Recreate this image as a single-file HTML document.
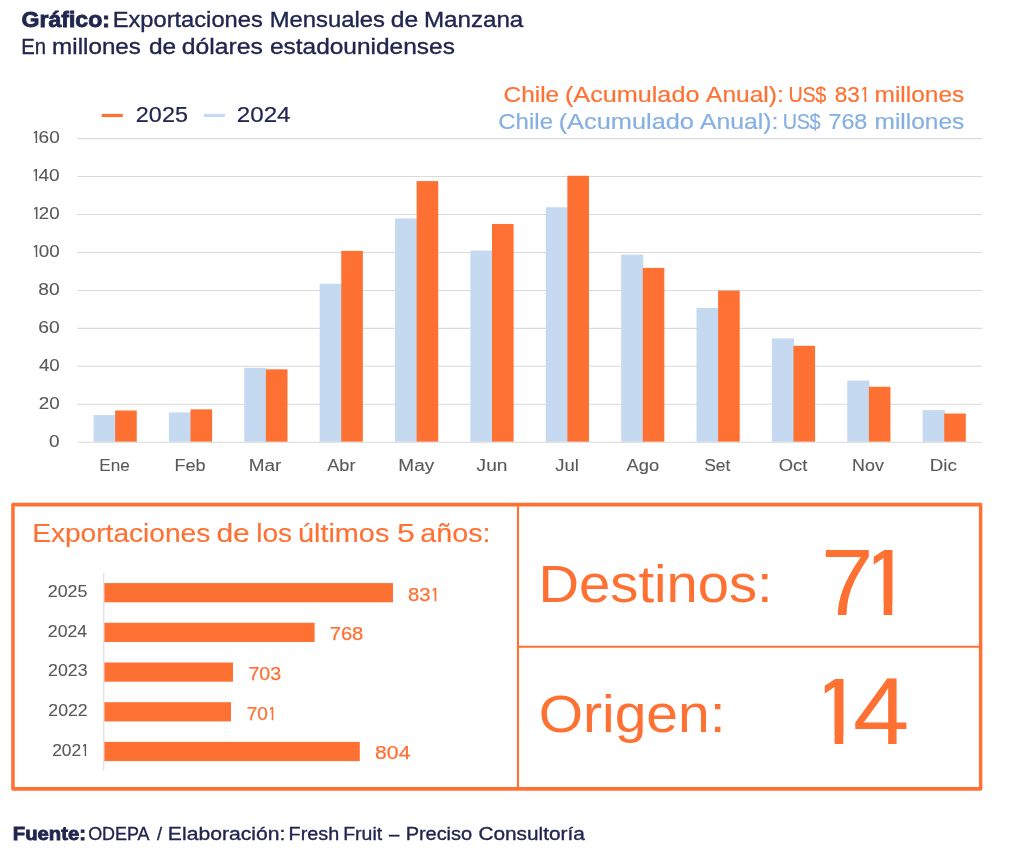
<!DOCTYPE html>
<html lang="es">
<head>
<meta charset="utf-8">
<title>Exportaciones Mensuales de Manzana</title>
<style>
html,body{margin:0;padding:0;background:#fff;}
body{width:1024px;height:859px;position:relative;overflow:hidden;font-family:"Liberation Sans",sans-serif;}
.t{position:absolute;white-space:nowrap;line-height:1;margin:0;padding:0;transform-origin:0 50%;-webkit-text-stroke:0.35px;}
.line{position:absolute;left:0;top:0;margin:0;}
span.t{display:block;}
.n1{display:inline-block;margin:0 -0.15em 0 -0.05em;clip-path:polygon(0.155em 0,0.344em 0,0.344em 0.74em,0.338em 0.74em,0.338em 1em,0.252em 1em,0.252em 0.74em,0.246em 0.74em,0.246em 0.5em,0.155em 0.5em);}
.big{position:absolute;top:0;display:block;transform-origin:0 50%;}
</style>
</head>
<body>

<svg id="chart" width="1024" height="859" viewBox="0 0 1024 859" style="position:absolute;left:0;top:0">
<g id="grid" stroke="#D9D9D9" stroke-width="1.05" fill="none">
<line x1="77.46" y1="404.25" x2="982.00" y2="404.25"/>
<line x1="77.46" y1="366.30" x2="982.00" y2="366.30"/>
<line x1="77.46" y1="328.35" x2="982.00" y2="328.35"/>
<line x1="77.46" y1="290.40" x2="982.00" y2="290.40"/>
<line x1="77.46" y1="252.45" x2="982.00" y2="252.45"/>
<line x1="77.46" y1="214.50" x2="982.00" y2="214.50"/>
<line x1="77.46" y1="176.55" x2="982.00" y2="176.55"/>
<line x1="77.46" y1="138.60" x2="982.00" y2="138.60"/>
</g>
<g id="bars2024" fill="#C5D9F1">
<rect x="93.54" y="415.05" width="22.20" height="26.75"/>
<rect x="168.91" y="412.39" width="22.20" height="29.41"/>
<rect x="244.28" y="367.80" width="22.20" height="74.00"/>
<rect x="319.65" y="283.74" width="22.20" height="158.06"/>
<rect x="395.02" y="218.46" width="22.20" height="223.34"/>
<rect x="470.39" y="250.53" width="22.20" height="191.27"/>
<rect x="545.76" y="207.27" width="22.20" height="234.53"/>
<rect x="621.14" y="254.61" width="22.20" height="187.19"/>
<rect x="696.50" y="307.84" width="22.20" height="133.96"/>
<rect x="771.88" y="338.39" width="22.20" height="103.41"/>
<rect x="847.25" y="380.51" width="22.20" height="61.29"/>
<rect x="922.62" y="410.11" width="22.20" height="31.69"/>
</g>
<g id="bars2025" fill="#FF7033">
<rect x="115.14" y="410.49" width="21.60" height="31.31"/>
<rect x="190.51" y="409.35" width="21.60" height="32.45"/>
<rect x="265.88" y="369.32" width="21.60" height="72.48"/>
<rect x="341.25" y="250.91" width="21.60" height="190.89"/>
<rect x="416.62" y="181.08" width="21.60" height="260.72"/>
<rect x="492.00" y="223.97" width="21.60" height="217.83"/>
<rect x="567.37" y="175.77" width="21.60" height="266.03"/>
<rect x="642.74" y="267.89" width="21.60" height="173.91"/>
<rect x="718.11" y="290.57" width="21.60" height="151.23"/>
<rect x="793.48" y="345.79" width="21.60" height="96.01"/>
<rect x="868.85" y="386.77" width="21.60" height="55.03"/>
<rect x="944.22" y="413.53" width="21.60" height="28.27"/>
</g>
<line x1="77.46" y1="442.20" x2="982.00" y2="442.20" stroke="#D9D9D9" stroke-width="1.05"/>
<rect x="101.7" y="113.9" width="21.1" height="3.2" fill="#FF7033"/>
<rect x="203.8" y="113.9" width="21.0" height="3.2" fill="#C5D9F1"/>
<g id="panel" stroke="#FF7033" fill="none">
<path fill="#FF7033" stroke="none" fill-rule="evenodd" d="M12.80 502.75H980.75Q982.35 502.75 982.35 504.35V789.10Q982.35 790.70 980.75 790.70H12.80Q11.20 790.70 11.20 789.10V504.35Q11.20 502.75 12.80 502.75ZM14.70 506.45V787.00H978.90V506.45Z"/>
<line x1="518" y1="505" x2="518" y2="788.5" stroke-width="2.1"/>
<line x1="518" y1="646.8" x2="980" y2="646.8" stroke-width="2.1"/>
</g>
<line x1="103.8" y1="572.8" x2="103.8" y2="770.6" stroke="#D9D9D9" stroke-width="1.05"/>
<g id="yearly" fill="#FF7033">
<rect x="104.4" y="583.10" width="288.60" height="19.2"/>
<rect x="104.4" y="622.80" width="210.20" height="19.2"/>
<rect x="104.4" y="662.50" width="128.60" height="19.2"/>
<rect x="104.4" y="702.20" width="126.60" height="19.2"/>
<rect x="104.4" y="741.90" width="255.40" height="19.2"/>
</g>
</svg>
<header id="titulo">
<div class="t" id="t1b" style="left:21px;top:9px;font-size:21.80px;color:#20264F;font-weight:700;transform:translate(0.47px,0.15px) scaleX(1.0588);-webkit-text-stroke:0.8px;">Gráfico:</div>
<div class="line" id="t1"><span class="t" id="t1_0" style="left:112px;top:9px;font-size:21.80px;color:#20264F;transform:translate(0.70px,0.15px) scaleX(1.0861);">Exportaciones</span>
 <span class="t" id="t1_1" style="left:269px;top:9px;font-size:21.80px;color:#20264F;transform:translate(0.72px,0.15px) scaleX(1.0918);">Mensuales</span>
 <span class="t" id="t1_2" style="left:390px;top:9px;font-size:21.80px;color:#20264F;letter-spacing:0.053px;transform:translate(0.86px,0.15px) scaleX(1.1293);">de</span>
 <span class="t" id="t1_3" style="left:423px;top:9px;font-size:21.80px;color:#20264F;transform:translate(0.88px,0.15px) scaleX(1.1084);">Manzana</span></div>
<div class="line" id="t2"><span class="t" id="t2_0" style="left:21px;top:35px;font-size:21.80px;color:#20264F;transform:translate(0.26px,0.95px) scaleX(0.9309);">En</span>
 <span class="t" id="t2_1" style="left:52px;top:35px;font-size:21.80px;color:#20264F;letter-spacing:0.010px;transform:translate(0.08px,0.95px) scaleX(1.1102);">millones</span>
 <span class="t" id="t2_2" style="left:149px;top:35px;font-size:21.80px;color:#20264F;transform:translate(0.02px,0.95px) scaleX(1.1213);">de</span>
 <span class="t" id="t2_3" style="left:181px;top:35px;font-size:21.80px;color:#20264F;transform:translate(0.73px,0.95px) scaleX(1.1335);">dólares</span>
 <span class="t" id="t2_4" style="left:269px;top:35px;font-size:21.80px;color:#20264F;letter-spacing:0.012px;transform:translate(0.90px,0.95px) scaleX(1.1210);">estadounidenses</span></div>
</header>
<section id="mensual">
<div class="t" id="lg25" style="left:135px;top:103px;font-size:22.40px;color:#20264F;letter-spacing:0.105px;transform:translate(0.68px,0.84px) scaleX(1.0438);-webkit-text-stroke:0.2px;">2025</div>
<div class="t" id="lg24" style="left:236px;top:103px;font-size:22.40px;color:#20264F;transform:translate(0.79px,0.84px) scaleX(1.0790);-webkit-text-stroke:0.2px;">2024</div>
<div class="line" id="h1"><span class="t" id="h1_0" style="left:503px;top:84px;font-size:22.00px;color:#FF7033;transform:translate(0.59px,0.48px) scaleX(1.1085);-webkit-text-stroke:0.2px;">Chile</span>
 <span class="t" id="h1_1" style="left:564px;top:84px;font-size:22.00px;color:#FF7033;transform:translate(0.94px,0.48px) scaleX(1.1455);-webkit-text-stroke:0.2px;">(Acumulado</span>
 <span class="t" id="h1_2" style="left:706px;top:84px;font-size:22.00px;color:#FF7033;transform:translate(0.04px,0.48px) scaleX(1.1139);-webkit-text-stroke:0.2px;">Anual):</span>
 <span class="t" id="h1_3" style="left:788px;top:84px;font-size:22.00px;color:#FF7033;letter-spacing:-0.477px;transform:translate(0.52px,0.48px) scaleX(0.9000);-webkit-text-stroke:0.2px;">US$</span>
 <span class="t" id="h1_4" style="left:834px;top:84px;font-size:22.00px;color:#FF7033;transform:translate(0.81px,0.48px) scaleX(1.0238);-webkit-text-stroke:0.2px;">83<span class="n1">1</span></span>
 <span class="t" id="h1_5" style="left:874px;top:84px;font-size:22.00px;color:#FF7033;transform:translate(0.54px,0.48px) scaleX(1.1113);-webkit-text-stroke:0.2px;">millones</span></div>
<div class="line" id="h2"><span class="t" id="h2_0" style="left:498px;top:110px;font-size:22.00px;color:#86AFE2;letter-spacing:0.065px;transform:translate(0.14px,0.98px) scaleX(1.0880);-webkit-text-stroke:0.2px;">Chile</span>
 <span class="t" id="h2_1" style="left:558px;top:110px;font-size:22.00px;color:#86AFE2;transform:translate(0.66px,0.98px) scaleX(1.1527);-webkit-text-stroke:0.2px;">(Acumulado</span>
 <span class="t" id="h2_2" style="left:699px;top:110px;font-size:22.00px;color:#86AFE2;transform:translate(0.92px,0.98px) scaleX(1.1249);-webkit-text-stroke:0.2px;">Anual):</span>
 <span class="t" id="h2_3" style="left:782px;top:110px;font-size:22.00px;color:#86AFE2;letter-spacing:-0.411px;transform:translate(0.75px,0.98px) scaleX(0.9000);-webkit-text-stroke:0.2px;">US$</span>
 <span class="t" id="h2_4" style="left:828px;top:110px;font-size:22.00px;color:#86AFE2;transform:translate(0.48px,0.98px) scaleX(1.0570);-webkit-text-stroke:0.2px;">768</span>
 <span class="t" id="h2_5" style="left:874px;top:110px;font-size:22.00px;color:#86AFE2;transform:translate(0.50px,0.98px) scaleX(1.1126);-webkit-text-stroke:0.2px;">millones</span></div>
<div class="t" id="y0" style="left:49px;top:433px;font-size:16.00px;color:#595959;transform:translate(0.08px,0.76px) scaleX(1.1848);-webkit-text-stroke:0.1px;">0</div>
<div class="t" id="y20" style="left:38px;top:395px;font-size:16.00px;color:#595959;transform:translate(0.73px,0.81px) scaleX(1.1728);-webkit-text-stroke:0.1px;">20</div>
<div class="t" id="y40" style="left:38px;top:357px;font-size:16.00px;color:#595959;transform:translate(0.88px,0.86px) scaleX(1.1666);-webkit-text-stroke:0.1px;">40</div>
<div class="t" id="y60" style="left:38px;top:319px;font-size:16.00px;color:#595959;transform:translate(0.18px,0.91px) scaleX(1.2043);-webkit-text-stroke:0.1px;">60</div>
<div class="t" id="y80" style="left:38px;top:281px;font-size:16.00px;color:#595959;transform:translate(0.36px,0.96px) scaleX(1.2016);-webkit-text-stroke:0.1px;">80</div>
<div class="t" id="y100" style="left:31px;top:244px;font-size:16.00px;color:#595959;transform:translate(0.99px,0.01px) scaleX(1.1750);-webkit-text-stroke:0.1px;"><span class="n1">1</span>00</div>
<div class="t" id="y120" style="left:32px;top:206px;font-size:16.00px;color:#595959;transform:translate(0.16px,0.06px) scaleX(1.1669);-webkit-text-stroke:0.1px;"><span class="n1">1</span>20</div>
<div class="t" id="y140" style="left:31px;top:168px;font-size:16.00px;color:#595959;transform:translate(0.65px,0.11px) scaleX(1.1906);-webkit-text-stroke:0.1px;"><span class="n1">1</span>40</div>
<div class="t" id="y160" style="left:31px;top:130px;font-size:16.00px;color:#595959;transform:translate(0.82px,0.16px) scaleX(1.1864);-webkit-text-stroke:0.1px;"><span class="n1">1</span>60</div>
<div class="t" id="m0" style="left:99px;top:458px;font-size:16.00px;color:#595959;transform:translate(0.30px,0.46px) scaleX(1.0678);-webkit-text-stroke:0.1px;">Ene</div>
<div class="t" id="m1" style="left:174px;top:458px;font-size:16.00px;color:#595959;transform:translate(0.52px,0.46px) scaleX(1.1266);-webkit-text-stroke:0.1px;">Feb</div>
<div class="t" id="m2" style="left:248px;top:458px;font-size:16.00px;color:#595959;transform:translate(0.77px,0.46px) scaleX(1.1806);-webkit-text-stroke:0.1px;">Mar</div>
<div class="t" id="m3" style="left:327px;top:458px;font-size:16.00px;color:#595959;letter-spacing:0.053px;transform:translate(0.19px,0.46px) scaleX(1.1294);-webkit-text-stroke:0.1px;">Abr</div>
<div class="t" id="m4" style="left:398px;top:458px;font-size:16.00px;color:#595959;transform:translate(0.37px,0.46px) scaleX(1.1863);-webkit-text-stroke:0.1px;">May</div>
<div class="t" id="m5" style="left:476px;top:458px;font-size:16.00px;color:#595959;transform:translate(0.56px,0.46px) scaleX(1.1965);-webkit-text-stroke:0.1px;">Jun</div>
<div class="t" id="m6" style="left:555px;top:458px;font-size:16.00px;color:#595959;transform:translate(0.32px,0.46px) scaleX(1.1555);-webkit-text-stroke:0.1px;">Jul</div>
<div class="t" id="m7" style="left:626px;top:458px;font-size:16.00px;color:#595959;transform:translate(0.61px,0.46px) scaleX(1.1441);-webkit-text-stroke:0.1px;">Ago</div>
<div class="t" id="m8" style="left:704px;top:458px;font-size:16.00px;color:#595959;letter-spacing:0.009px;transform:translate(0.18px,0.46px) scaleX(1.0905);-webkit-text-stroke:0.1px;">Set</div>
<div class="t" id="m9" style="left:778px;top:458px;font-size:16.00px;color:#595959;transform:translate(0.73px,0.46px) scaleX(1.1518);-webkit-text-stroke:0.1px;">Oct</div>
<div class="t" id="m10" style="left:852px;top:458px;font-size:16.00px;color:#595959;transform:translate(0.08px,0.46px) scaleX(1.1146);-webkit-text-stroke:0.1px;">Nov</div>
<div class="t" id="m11" style="left:929px;top:458px;font-size:16.00px;color:#595959;letter-spacing:-0.034px;transform:translate(0.77px,0.46px) scaleX(1.1708);-webkit-text-stroke:0.1px;">Dic</div>
</section>
<section id="resumen">
<div class="line" id="p1"><span class="t" id="p1_0" style="left:32px;top:519px;font-size:26.40px;color:#FF7033;letter-spacing:-0.032px;transform:translate(0.17px,0.55px) scaleX(1.0675);-webkit-text-stroke:0.15px;">Exportaciones</span>
 <span class="t" id="p1_1" style="left:216px;top:519px;font-size:26.40px;color:#FF7033;transform:translate(0.40px,0.55px) scaleX(1.1380);-webkit-text-stroke:0.15px;">de</span>
 <span class="t" id="p1_2" style="left:256px;top:519px;font-size:26.40px;color:#FF7033;transform:translate(0.17px,0.55px) scaleX(1.0655);-webkit-text-stroke:0.15px;">los</span>
 <span class="t" id="p1_3" style="left:298px;top:519px;font-size:26.40px;color:#FF7033;transform:translate(0.00px,0.55px) scaleX(1.0924);-webkit-text-stroke:0.15px;">últimos</span>
 <span class="t" id="p1_4" style="left:397px;top:519px;font-size:26.40px;color:#FF7033;transform:translate(0.00px,0.55px) scaleX(1.2200);-webkit-text-stroke:0.15px;">5</span>
 <span class="t" id="p1_5" style="left:420px;top:519px;font-size:26.40px;color:#FF7033;letter-spacing:0.033px;transform:translate(0.23px,0.55px) scaleX(1.0868);-webkit-text-stroke:0.15px;">años:</span></div>
<div class="t" id="yr2025" style="left:47px;top:584px;font-size:16.00px;color:#595959;transform:translate(0.79px,0.06px) scaleX(1.1145);-webkit-text-stroke:0.1px;">2025</div>
<div class="t" id="v2025" style="left:408px;top:585px;font-size:18.50px;color:#FF7033;transform:translate(0.02px,0.54px) scaleX(1.0946);-webkit-text-stroke:0.25px;">83<span class="n1">1</span></div>
<div class="t" id="yr2024" style="left:47px;top:623px;font-size:16.00px;color:#595959;transform:translate(0.82px,0.76px) scaleX(1.1048);-webkit-text-stroke:0.1px;">2024</div>
<div class="t" id="v2024" style="left:329px;top:625px;font-size:18.50px;color:#FF7033;letter-spacing:-0.060px;transform:translate(0.77px,0.24px) scaleX(1.0903);-webkit-text-stroke:0.25px;">768</div>
<div class="t" id="yr2023" style="left:48px;top:663px;font-size:16.00px;color:#595959;transform:translate(0.07px,0.46px) scaleX(1.1083);-webkit-text-stroke:0.1px;">2023</div>
<div class="t" id="v2023" style="left:248px;top:664px;font-size:18.50px;color:#FF7033;transform:translate(0.41px,0.94px) scaleX(1.0618);-webkit-text-stroke:0.25px;">703</div>
<div class="t" id="yr2022" style="left:48px;top:703px;font-size:16.00px;color:#595959;transform:translate(0.37px,0.16px) scaleX(1.1042);-webkit-text-stroke:0.1px;">2022</div>
<div class="t" id="v2022" style="left:246px;top:704px;font-size:18.50px;color:#FF7033;transform:translate(0.69px,0.64px) scaleX(1.0280);-webkit-text-stroke:0.25px;">70<span class="n1">1</span></div>
<div class="t" id="yr2021" style="left:52px;top:742px;font-size:16.00px;color:#595959;transform:translate(0.13px,0.86px) scaleX(1.0859);-webkit-text-stroke:0.1px;">202<span class="n1">1</span></div>
<div class="t" id="v2021" style="left:375px;top:744px;font-size:18.50px;color:#FF7033;transform:translate(0.11px,0.34px) scaleX(1.1431);-webkit-text-stroke:0.25px;">804</div>
<div class="t" id="d1" style="left:538px;top:558px;font-size:52.60px;color:#FF7033;transform:translate(0.55px,0.17px) scaleX(1.0676);-webkit-text-stroke:0;">Destinos:</div>
<div class="t" id="d2" style="left:0px;top:536px;font-size:94.00px;color:#FF7033;transform:translate(0.00px,0.03px) scaleX(1.0000);-webkit-text-stroke:0;"><span class="big" style="left:821.27px;transform:scaleX(1.005)">7</span><span class="big n1" style="left:858.48px;margin:0;transform:scaleX(1.080)">1</span></div>
<div class="t" id="o1" style="left:538px;top:687px;font-size:52.60px;color:#FF7033;transform:translate(0.68px,0.57px) scaleX(1.0839);-webkit-text-stroke:0;">Origen:</div>
<div class="t" id="o2" style="left:0px;top:665px;font-size:94.00px;color:#FF7033;transform:translate(0.00px,0.33px) scaleX(1.0000);-webkit-text-stroke:0;"><span class="big n1" style="left:809.48px;margin:0;transform:scaleX(1.080)">1</span><span class="big" style="left:852.57px;transform:scaleX(1.077)">4</span></div>
</section>
<footer id="fuente">
<div class="t" id="f1b" style="left:12px;top:824px;font-size:18.70px;color:#20264F;font-weight:700;transform:translate(0.85px,0.67px) scaleX(1.0835);-webkit-text-stroke:0.8px;">Fuente:</div>
<div class="line" id="f1"><span class="t" id="f1_0" style="left:88px;top:824px;font-size:18.70px;color:#20264F;transform:translate(0.13px,0.67px) scaleX(0.9587);">ODEPA</span>
 <span class="t" id="f1_1" style="left:157px;top:824px;font-size:18.70px;color:#20264F;transform:translate(0.04px,0.67px) scaleX(0.9733);">/</span>
 <span class="t" id="f1_2" style="left:167px;top:824px;font-size:18.70px;color:#20264F;transform:translate(0.85px,0.67px) scaleX(1.1306);">Elaboración:</span>
 <span class="t" id="f1_3" style="left:288px;top:824px;font-size:18.70px;color:#20264F;transform:translate(0.61px,0.67px) scaleX(1.0582);">Fresh</span>
 <span class="t" id="f1_4" style="left:343px;top:824px;font-size:18.70px;color:#20264F;transform:translate(0.20px,0.67px) scaleX(1.0409);">Fruit</span>
 <span class="t" id="f1_5" style="left:388px;top:824px;font-size:18.70px;color:#20264F;transform:translate(0.98px,0.67px) scaleX(0.9900);">–</span>
 <span class="t" id="f1_6" style="left:405px;top:824px;font-size:18.70px;color:#20264F;letter-spacing:-0.065px;transform:translate(0.69px,0.67px) scaleX(1.0713);">Preciso</span>
 <span class="t" id="f1_7" style="left:478px;top:824px;font-size:18.70px;color:#20264F;transform:translate(0.43px,0.67px) scaleX(1.1136);">Consultoría</span></div>
</footer>
</body>
</html>
